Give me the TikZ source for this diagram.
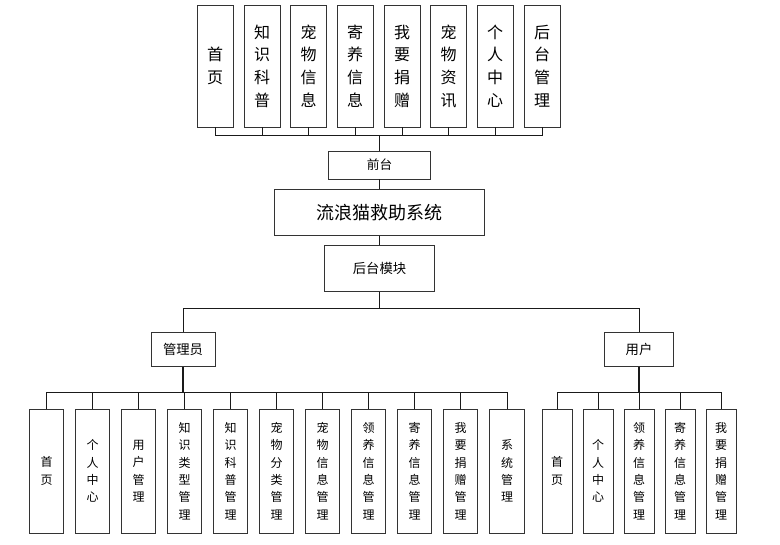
\documentclass[tikz,border=0pt]{standalone}
\usepackage{fontspec}
\setmainfont{Noto Sans CJK SC}
\usepackage{tikz}
\usetikzlibrary{positioning,calc}
\definecolor{boxline}{HTML}{333333}
\definecolor{linkline}{HTML}{1A1A1A}

\begin{document}
\begin{tikzpicture}[
      x=0.75pt, y=-0.75pt,
      topbox/.style={draw=boxline, line width=0.65pt, fill=white, minimum width=27pt, minimum height=91.5pt,
                     inner sep=0pt, align=center, font=\fontsize{12}{17}\selectfont},
      subbox/.style={draw=boxline, line width=0.65pt, fill=white, minimum width=26pt, minimum height=93pt,
                     inner sep=0pt, align=center, font=\fontsize{9}{13}\selectfont},
      usrbox/.style={subbox, minimum width=22.5pt},
      midbox/.style={draw=boxline, line width=0.65pt, fill=white, inner sep=0pt, font=\fontsize{10}{12}\selectfont},
      link/.style={draw=linkline, line width=0.6pt}
    ]
      \useasboundingbox (0,0) rectangle (780,544);

      % Row 1: front-end pages
      \node[topbox] (top1) at (215,66) {首\\页};
      \node[topbox] (top2) at (262,66) {知\\识\\科\\普};
      \node[topbox] (top3) at (308.5,66) {宠\\物\\信\\息};
      \node[topbox] (top4) at (355,66) {寄\\养\\信\\息};
      \node[topbox] (top5) at (402,66) {我\\要\\捐\\赠};
      \node[topbox] (top6) at (448.5,66) {宠\\物\\资\\讯};
      \node[topbox] (top7) at (495,66) {个\\人\\中\\心};
      \node[topbox] (top8) at (542,66) {后\\台\\管\\理};

      % Middle column
      \node[midbox, minimum width=77pt, minimum height=21pt, font=\fontsize{9.5}{12}\selectfont] (front) at (379.5,165) {前台};
      \node[midbox, minimum width=158pt, minimum height=34pt, font=\fontsize{13.5}{16}\selectfont] (system) at (379.5,212.5) {流浪猫救助系统};
      \node[midbox, minimum width=82pt, minimum height=34pt] (back) at (379.5,268.5) {后台模块};

      % Roles
      \node[midbox, minimum width=48pt, minimum height=26pt] (admin) at (183,349.5) {管理员};
      \node[midbox, minimum width=52pt, minimum height=26pt] (user) at (639,349.5) {用户};

      % Row 3: admin functions
      \node[subbox] (adm1) at (46.5,471) {首\\页};
      \node[subbox] (adm2) at (92.5,471) {个\\人\\中\\心};
      \node[subbox] (adm3) at (138.5,471) {用\\户\\管\\理};
      \node[subbox] (adm4) at (184.5,471) {知\\识\\类\\型\\管\\理};
      \node[subbox] (adm5) at (230.5,471) {知\\识\\科\\普\\管\\理};
      \node[subbox] (adm6) at (276.5,471) {宠\\物\\分\\类\\管\\理};
      \node[subbox] (adm7) at (322.5,471) {宠\\物\\信\\息\\管\\理};
      \node[subbox] (adm8) at (368.5,471) {领\\养\\信\\息\\管\\理};
      \node[subbox] (adm9) at (414.5,471) {寄\\养\\信\\息\\管\\理};
      \node[subbox] (adm10) at (460.5,471) {我\\要\\捐\\赠\\管\\理};
      \node[subbox] (adm11) at (507,471) {系\\统\\管\\理};

      % Row 3: user functions
      \node[usrbox] (usr1) at (557,471) {首\\页};
      \node[usrbox] (usr2) at (598,471) {个\\人\\中\\心};
      \node[usrbox] (usr3) at (639,471) {领\\养\\信\\息\\管\\理};
      \node[usrbox] (usr4) at (680,471) {寄\\养\\信\\息\\管\\理};
      \node[usrbox] (usr5) at (721,471) {我\\要\\捐\\赠\\管\\理};

      % Bus points
      \coordinate (topbus) at (379.5,135);
      \coordinate (midbus) at (379.5,308);
      \coordinate (admbus) at (183,392);
      \coordinate (usrbus) at (639,392);

      % Connectors: front pages
      \draw[link] (top1.south) |- (topbus);
      \draw[link] (top2.south) |- (topbus);
      \draw[link] (top3.south) |- (topbus);
      \draw[link] (top4.south) |- (topbus);
      \draw[link] (top5.south) |- (topbus);
      \draw[link] (top6.south) |- (topbus);
      \draw[link] (top7.south) |- (topbus);
      \draw[link] (top8.south) |- (topbus);
      \draw[link] (topbus) -- (front);
      \draw[link] (front) -- (system);
      \draw[link] (system) -- (back);

      % Connectors: roles
      \draw[link] (back) -- (midbus);
      \draw[link] (midbus) -| (admin);
      \draw[link] (midbus) -| (user);

      % Connectors: admin functions
      \draw[link, line width=1.2pt] (admin) -- (admbus);
      \draw[link] (admbus) -| (adm1);
      \draw[link] (admbus) -| (adm2);
      \draw[link] (admbus) -| (adm3);
      \draw[link] (admbus) -| (adm4);
      \draw[link] (admbus) -| (adm5);
      \draw[link] (admbus) -| (adm6);
      \draw[link] (admbus) -| (adm7);
      \draw[link] (admbus) -| (adm8);
      \draw[link] (admbus) -| (adm9);
      \draw[link] (admbus) -| (adm10);
      \draw[link] (admbus) -| (adm11);

      % Connectors: user functions
      \draw[link, line width=1.2pt] (user) -- (usrbus);
      \draw[link] (usrbus) -| (usr1);
      \draw[link] (usrbus) -| (usr2);
      \draw[link] (usrbus) -| (usr3);
      \draw[link] (usrbus) -| (usr4);
      \draw[link] (usrbus) -| (usr5);
    \end{tikzpicture}
\end{document}
